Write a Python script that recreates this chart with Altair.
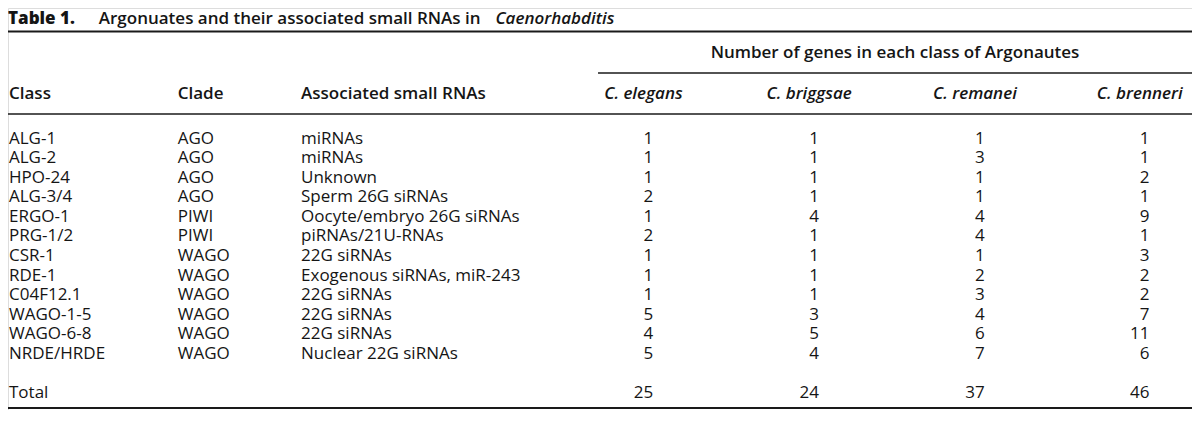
import altair as alt
import pandas as pd

# ---------------- data ----------------
title_lead = "Table 1."
title_main = "Argonuates and their associated small RNAs in"
title_genus = "Caenorhabditis"
group_header = "Number of genes in each class of Argonautes"
col_headers = ["Class", "Clade", "Associated small RNAs"]
species = ["C. elegans", "C. briggsae", "C. remanei", "C. brenneri"]
classes = ["ALG-1", "ALG-2", "HPO-24", "ALG-3/4", "ERGO-1", "PRG-1/2", "CSR-1",
           "RDE-1", "C04F12.1", "WAGO-1-5", "WAGO-6-8", "NRDE/HRDE"]
clades = ["AGO", "AGO", "AGO", "AGO", "PIWI", "PIWI", "WAGO", "WAGO", "WAGO",
          "WAGO", "WAGO", "WAGO"]
small_rnas = ["miRNAs", "miRNAs", "Unknown", "Sperm 26G siRNAs",
              "Oocyte/embryo 26G siRNAs", "piRNAs/21U-RNAs", "22G siRNAs",
              "Exogenous siRNAs, miR-243", "22G siRNAs", "22G siRNAs",
              "22G siRNAs", "Nuclear 22G siRNAs"]
elegans = [1, 1, 1, 2, 1, 2, 1, 1, 1, 5, 4, 5]
briggsae = [1, 1, 1, 1, 4, 1, 1, 1, 1, 3, 5, 4]
remanei = [1, 3, 1, 1, 4, 4, 1, 2, 3, 4, 6, 7]
brenneri = [1, 1, 2, 1, 9, 1, 3, 2, 2, 7, 11, 6]
total_label = "Total"
totals = [25, 24, 37, 46]

# ---------------- layout (reference pixel units / row units) ----------------
W, H = 1184, 402
REF_W, REF_H = 1200, 421
ROW0, ROW_H = 137.0, 20.45


def r_of(ref_y):
    return (ref_y - ROW0) / ROW_H


TITLE_R = r_of(12)
TOP_RULE_R = r_of(24.5)
GROUP_R = r_of(47)
GROUP_RULE_R = r_of(68)
HEAD_R = r_of(90)
HEAD_RULE_R = r_of(111)
TOTAL_R = 13
BOTTOM_RULE_R = r_of(419)

LEFT_COLS_X = [1, 172, 297]
SPECIES_X = [644, 812, 980, 1147]
NUM_OFFSET = 10
GROUP_X0, GROUP_X1 = 598, 1200
TITLE_MAIN_X = 92
TITLE_GENUS_X = 494

FONT = "Open Sans"
FS = 17
INK = "#151515"

xs = alt.Scale(domain=[0, REF_W], range=[0, W])
ys = alt.Scale(domain=[r_of(0), r_of(REF_H)], reverse=True)


def enc(chart):
    return chart.encode(
        x=alt.X("x:Q", scale=xs, axis=None),
        y=alt.Y("r:Q", scale=ys, axis=None),
        text=alt.Text("t:N"),
    )


# body left text
rows = []
for i in range(len(classes)):
    for xi, v in zip(LEFT_COLS_X, [classes[i], clades[i], small_rnas[i]]):
        rows.append({"x": xi, "r": i, "t": v})
rows.append({"x": LEFT_COLS_X[0], "r": TOTAL_R, "t": total_label})
body_left = pd.DataFrame(rows)

# numbers
rows = []
for sx, vals, tot in zip(SPECIES_X, [elegans, briggsae, remanei, brenneri], totals):
    for i, v in enumerate(vals):
        rows.append({"x": sx + NUM_OFFSET, "r": i, "t": str(v)})
    rows.append({"x": sx + NUM_OFFSET, "r": TOTAL_R, "t": str(tot)})
nums = pd.DataFrame(rows)

heads = pd.DataFrame({"x": LEFT_COLS_X, "r": [HEAD_R] * 3, "t": col_headers})
spec_heads = pd.DataFrame({"x": SPECIES_X, "r": [HEAD_R] * 4, "t": species})
group_df = pd.DataFrame({"x": [(GROUP_X0 + GROUP_X1) / 2], "r": [GROUP_R], "t": [group_header]})
t_lead = pd.DataFrame({"x": [0], "r": [TITLE_R], "t": [title_lead]})
t_main = pd.DataFrame({"x": [TITLE_MAIN_X], "r": [TITLE_R], "t": [title_main]})
t_genus = pd.DataFrame({"x": [TITLE_GENUS_X], "r": [TITLE_R], "t": [title_genus]})

rules = pd.DataFrame({
    "x": [0, GROUP_X0, 0, 0],
    "x2": [REF_W, GROUP_X1, REF_W, REF_W],
    "r": [TOP_RULE_R, GROUP_RULE_R, HEAD_RULE_R, BOTTOM_RULE_R],
    "w": [2.0, 1.4, 1.4, 2.0],
})

base_txt = dict(font=FONT, fontSize=FS, color=INK, baseline="middle")

layers = [
    enc(alt.Chart(body_left).mark_text(align="left", **base_txt)),
    enc(alt.Chart(nums).mark_text(align="right", **base_txt)),
    enc(alt.Chart(heads).mark_text(align="left", fontWeight=600, **base_txt)),
    enc(alt.Chart(spec_heads).mark_text(align="center", fontWeight=600, fontStyle="italic", **base_txt)),
    enc(alt.Chart(group_df).mark_text(align="center", fontWeight=600, **base_txt)),
    enc(alt.Chart(t_lead).mark_text(align="left", fontWeight=800, **base_txt)),
    enc(alt.Chart(t_main).mark_text(align="left", fontWeight=600, **base_txt)),
    enc(alt.Chart(t_genus).mark_text(align="left", fontWeight=600, fontStyle="italic", **base_txt)),
    alt.Chart(rules).mark_rule(color="#1a1a1a").encode(
        x=alt.X("x:Q", scale=xs, axis=None),
        x2="x2:Q",
        y=alt.Y("r:Q", scale=ys, axis=None),
        strokeWidth=alt.StrokeWidth("w:Q", scale=None, legend=None),
    ),
]

chart = alt.layer(*layers).properties(
    width=W, height=H, padding=0, autosize="none"
).configure_view(stroke=None).configure(background="white")

chart.save("out.html", embed_options={"renderer": "svg", "actions": False})
